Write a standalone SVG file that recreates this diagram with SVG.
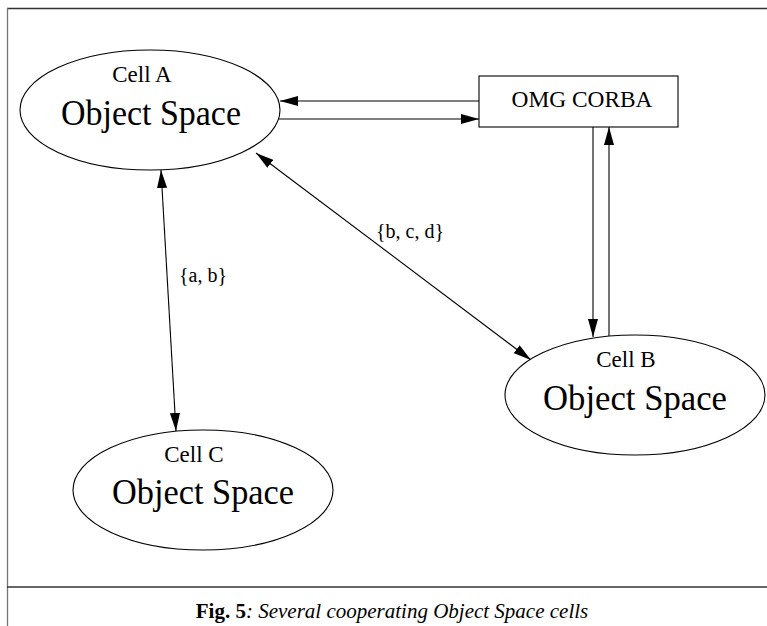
<svg xmlns="http://www.w3.org/2000/svg" width="767" height="626" viewBox="0 0 767 626">
  <style>
    .bg { fill: #ffffff; }
    .node { fill: #ffffff; stroke: #000000; stroke-width: 1.1; }
    .edge { fill: none; stroke: #000000; stroke-width: 1.1; }
    .frame { fill: none; stroke: #333333; stroke-width: 1.5; }
    .side { fill: none; stroke: #777777; stroke-width: 1.3; }
    text { font-family: "Liberation Serif", "Times New Roman", serif; fill: #000000; text-anchor: middle; }
    .cell { font-size: 23px; }
    .space { font-size: 35px; }
    .box { font-size: 23px; }
    .label { font-size: 20px; }
    .caption { font-size: 21px; }
  </style>
  <defs>
    <marker id="head" markerUnits="userSpaceOnUse" markerWidth="18" markerHeight="10" refX="18" refY="5" orient="auto-start-reverse">
      <path d="M0,0 L18,5 L0,10 z" fill="#000000"/>
    </marker>
  </defs>

  <rect class="bg" x="0" y="0" width="767" height="626"/>

  <!-- figure frame and caption rule -->
  <g id="frame">
    <line class="frame" x1="7" y1="8.5" x2="767" y2="8.5"/>
    <line class="side" x1="7.5" y1="8" x2="7.5" y2="626"/>
    <line class="frame" x1="7" y1="587" x2="767" y2="587" stroke="#111111"/>
  </g>

  <!-- connectors -->
  <g id="connectors">
    <line class="edge" x1="479" y1="101" x2="280" y2="101" marker-end="url(#head)"/>
    <line class="edge" x1="279" y1="119" x2="479" y2="119" marker-end="url(#head)"/>
    <line class="edge" x1="593" y1="127" x2="593" y2="337" marker-end="url(#head)"/>
    <line class="edge" x1="609" y1="336" x2="609" y2="127" marker-end="url(#head)"/>
    <line class="edge" x1="256" y1="153" x2="531" y2="360" marker-start="url(#head)" marker-end="url(#head)"/>
    <line class="edge" x1="161" y1="170" x2="176" y2="431" marker-start="url(#head)" marker-end="url(#head)"/>
    <text class="label" x="410" y="238">{b, c, d}</text>
    <text class="label" x="203" y="282">{a, b}</text>
  </g>

  <!-- Cell A -->
  <g id="cellA">
    <ellipse class="node" cx="150" cy="110" rx="130" ry="60"/>
    <text class="cell" x="142" y="82">Cell A</text>
    <text class="space" x="151" y="125" textLength="180" lengthAdjust="spacingAndGlyphs">Object Space</text>
  </g>

  <!-- OMG CORBA -->
  <g id="corba">
    <rect class="node" x="479" y="76" width="199" height="51"/>
    <text class="box" x="582" y="107" textLength="141" lengthAdjust="spacingAndGlyphs">OMG CORBA</text>
  </g>

  <!-- Cell B -->
  <g id="cellB">
    <ellipse class="node" cx="635" cy="395" rx="130" ry="60"/>
    <text class="cell" x="626" y="367">Cell B</text>
    <text class="space" x="635" y="410" textLength="184" lengthAdjust="spacingAndGlyphs">Object Space</text>
  </g>

  <!-- Cell C -->
  <g id="cellC">
    <ellipse class="node" cx="203" cy="490" rx="130" ry="60"/>
    <text class="cell" x="194" y="462">Cell C</text>
    <text class="space" x="203" y="504" textLength="182" lengthAdjust="spacingAndGlyphs">Object Space</text>
  </g>

  <!-- caption -->
  <text class="caption" x="392" y="618"><tspan font-weight="bold">Fig. 5</tspan><tspan font-style="italic">: Several cooperating Object Space cells</tspan></text>
</svg>
